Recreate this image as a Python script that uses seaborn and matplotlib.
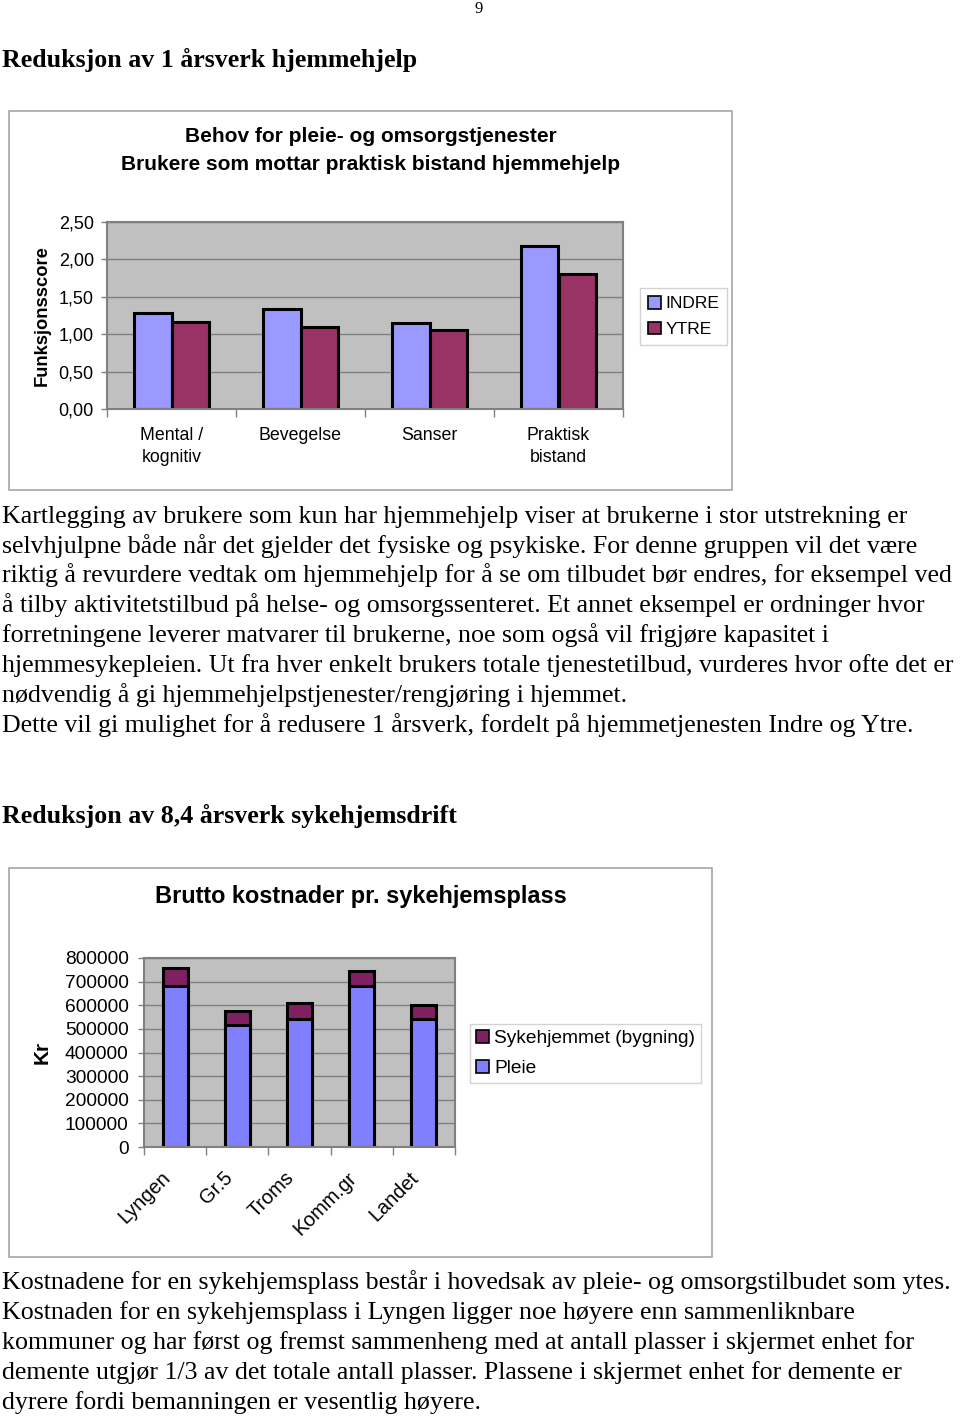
import matplotlib
matplotlib.use("Agg")
import matplotlib.pyplot as plt
import matplotlib.patches as mpatches
from matplotlib.ticker import FixedLocator
from matplotlib.transforms import ScaledTranslation
import numpy as np
import pandas as pd
import seaborn as sns

# ---------------- data ----------------
cats1 = ["Mental /\nkognitiv", "Bevegelse", "Sanser", "Praktisk\nbistand"]
indre = [1.29, 1.34, 1.15, 2.18]
ytre = [1.16, 1.10, 1.06, 1.80]
series1 = ["INDRE", "YTRE"]
yticks1 = [0.0, 0.5, 1.0, 1.5, 2.0, 2.5]

cats2 = ["Lyngen", "Gr.5", "Troms", "Komm.gr", "Landet"]
pleie = [682000, 517000, 543000, 682000, 540000]
bygning = [75000, 58000, 68000, 65000, 60000]
series2 = ["Sykehjemmet (bygning)", "Pleie"]
yticks2 = [0, 100000, 200000, 300000, 400000, 500000, 600000, 700000, 800000]

para1 = [
    "Kartlegging av brukere som kun har hjemmehjelp viser at brukerne i stor utstrekning er",
    "selvhjulpne både når det gjelder det fysiske og psykiske. For denne gruppen vil det være",
    "riktig å revurdere vedtak om hjemmehjelp for å se om tilbudet bør endres, for eksempel ved",
    "å tilby aktivitetstilbud på helse- og omsorgssenteret. Et annet eksempel er ordninger hvor",
    "forretningene leverer matvarer til brukerne, noe som også vil frigjøre kapasitet i",
    "hjemmesykepleien. Ut fra hver enkelt brukers totale tjenestetilbud, vurderes hvor ofte det er",
    "nødvendig å gi hjemmehjelpstjenester/rengjøring i hjemmet.",
    "Dette vil gi mulighet for å redusere 1 årsverk, fordelt på hjemmetjenesten Indre og Ytre.",
]
para2 = [
    "Kostnadene for en sykehjemsplass består i hovedsak av pleie- og omsorgstilbudet som ytes.",
    "Kostnaden for en sykehjemsplass i Lyngen ligger noe høyere enn sammenliknbare",
    "kommuner og har først og fremst sammenheng med at antall plasser i skjermet enhet for",
    "demente utgjør 1/3 av det totale antall plasser. Plassene i skjermet enhet for demente er",
    "dyrere fordi bemanningen er vesentlig høyere.",
]

# ---------------- style ----------------
SERIF = ["Liberation Serif", "DejaVu Serif"]
SANS = ["Liberation Sans", "DejaVu Sans"]
plt.rcParams["font.family"] = SANS

W, H = 960, 1420
fig = plt.figure(figsize=(W / 100, H / 100), dpi=100)


def fx(x):
    return x / W


def fy(y):
    return 1 - y / H


def frame(x0, y0, x1, y1):
    fig.patches.append(mpatches.Rectangle((fx(x0), fy(y1)), fx(x1) - fx(x0), fy(y0) - fy(y1),
                                          transform=fig.transFigure, fill=False,
                                          edgecolor="#a6a6a6", linewidth=1.2))


BODY = 18.65
# page number and headings
fig.text(fx(479), fy(13), "9", family=SERIF, fontsize=12, ha="center", va="baseline")
fig.text(fx(2), fy(66.5), "Reduksjon av 1 årsverk hjemmehjelp", family=SERIF, fontsize=18.6,
         fontweight="bold", ha="left", va="baseline")
fig.text(fx(2), fy(823.5), "Reduksjon av 8,4 årsverk sykehjemsdrift", family=SERIF, fontsize=18.6,
         fontweight="bold", ha="left", va="baseline")
for i, line in enumerate(para1):
    fig.text(fx(2), fy(522.7 + 29.86 * i), line, family=SERIF, fontsize=BODY, ha="left", va="baseline")
for i, line in enumerate(para2):
    fig.text(fx(2), fy(1289.5 + 29.86 * i), line, family=SERIF, fontsize=BODY, ha="left", va="baseline")

BG = "#c0c0c0"
GRID = "#808080"


def style_axes(ax):
    ax.set_facecolor(BG)
    for s in ax.spines.values():
        s.set_color(GRID)
        s.set_linewidth(1.5)
    ax.set_axisbelow(True)
    ax.yaxis.grid(True, color=GRID, linewidth=1)
    ax.xaxis.grid(False)
    ax.tick_params(axis="y", which="major", length=4, color=GRID, width=1)
    ax.tick_params(axis="x", which="major", length=0)
    ax.tick_params(axis="x", which="minor", length=6, color=GRID, width=1)
    ax.set_xlabel("")
    ax.set_ylabel("")


# ---------------- chart 1 ----------------
frame(9, 111, 732, 490)
ax1 = fig.add_axes([fx(107), fy(409), fx(623) - fx(107), fy(222) - fy(409)])
df1 = pd.DataFrame({
    "kategori": cats1 * 2,
    "serie": [series1[0]] * len(cats1) + [series1[1]] * len(cats1),
    "verdi": indre + ytre,
})
col1 = {"INDRE": "#9999ff", "YTRE": "#993366"}
sns.barplot(data=df1, x="kategori", y="verdi", hue="serie", palette=col1, width=0.58, gap=0,
            edgecolor="black", linewidth=2.2, ax=ax1, legend=False, errorbar=None, saturation=1)
ax1.set_xlim(-0.5, len(cats1) - 0.5)
ax1.set_ylim(0, 2.5)
ax1.set_yticks(yticks1)
ax1.set_yticklabels([f"{v:.2f}".replace(".", ",") for v in yticks1], fontsize=13)
ax1.xaxis.set_minor_locator(FixedLocator(np.arange(-0.5, len(cats1), 1.0)))
style_axes(ax1)
ax1.tick_params(axis="y", which="major", pad=5.5)
ax1.tick_params(axis="x", which="major", labelsize=12.8, pad=13)
for lab in ax1.get_xticklabels():
    lab.set_linespacing(1.4)
fig.text(fx(371), fy(137), "Behov for pleie- og omsorgstjenester", fontsize=15,
         fontweight="bold", ha="center", va="center")
fig.text(fx(371), fy(165), "Brukere som mottar praktisk bistand hjemmehjelp", fontsize=15,
         fontweight="bold", ha="center", va="center")
fig.text(fx(42), fy(316), "Funksjonsscore", fontsize=13.2, fontweight="bold", rotation=90,
         ha="center", va="center")
h1 = [mpatches.Patch(facecolor=col1[s], edgecolor="black", linewidth=1.2) for s in series1]
leg1 = ax1.legend(h1, series1, loc="upper left", bbox_to_anchor=(fx(640), fy(288)),
                  bbox_transform=fig.transFigure, frameon=True, fancybox=False,
                  edgecolor="#c8c8c8", fontsize=12.5, handlelength=0.75, handleheight=0.75,
                  handletextpad=0.25, borderpad=0.45, labelspacing=0.6, borderaxespad=0)
leg1.get_frame().set_linewidth(1)

# ---------------- chart 2 ----------------
frame(9, 868, 712, 1257)
ax2 = fig.add_axes([fx(144), fy(1147), fx(455) - fx(144), fy(958) - fy(1147)])
totals = [p + b for p, b in zip(pleie, bygning)]
df2 = pd.DataFrame({"sted": cats2, "total": totals, "pleie": pleie})
col2 = {"Sykehjemmet (bygning)": "#802060", "Pleie": "#8080ff"}
sns.barplot(data=df2, x="sted", y="total", color=col2["Sykehjemmet (bygning)"], width=0.4,
            edgecolor="black", linewidth=2.2, ax=ax2, errorbar=None, saturation=1)
sns.barplot(data=df2, x="sted", y="pleie", color=col2["Pleie"], width=0.4,
            edgecolor="black", linewidth=2.2, ax=ax2, errorbar=None, saturation=1)
ax2.set_xlim(-0.5, len(cats2) - 0.5)
ax2.set_ylim(0, 800000)
ax2.set_yticks(yticks2)
ax2.set_yticklabels([str(v) for v in yticks2], fontsize=13.8)
ax2.xaxis.set_minor_locator(FixedLocator(np.arange(-0.5, len(cats2), 1.0)))
style_axes(ax2)
ax2.tick_params(axis="y", which="major", pad=7)
ax2.tick_params(axis="x", which="major", labelsize=14.3, pad=20)
shift = ScaledTranslation(-8 / 100, 0, fig.dpi_scale_trans)
for tick in ax2.xaxis.get_major_ticks():
    lab = tick.label1
    lab.set_rotation(45)
    lab.set_ha("right")
    lab.set_va("center")
    lab.set_rotation_mode("anchor")
    lab.set_transform(lab.get_transform() + shift)
fig.text(fx(361), fy(896), "Brutto kostnader pr. sykehjemsplass", fontsize=16.9,
         fontweight="bold", ha="center", va="center")
fig.text(fx(42), fy(1052), "Kr", fontsize=15, fontweight="bold", rotation=90,
         ha="center", va="center")
h2 = [mpatches.Patch(facecolor=col2[s], edgecolor="black", linewidth=1.2) for s in series2]
leg2 = ax2.legend(h2, series2, loc="upper left", bbox_to_anchor=(fx(470), fy(1024)),
                  bbox_transform=fig.transFigure, frameon=True, fancybox=False,
                  edgecolor="#c8c8c8", fontsize=13.8, handlelength=0.7, handleheight=0.7,
                  handletextpad=0.25, borderpad=0.3, labelspacing=0.65, borderaxespad=0)
leg2.get_frame().set_linewidth(1)

fig.savefig("out.png", dpi=100, facecolor="white")
